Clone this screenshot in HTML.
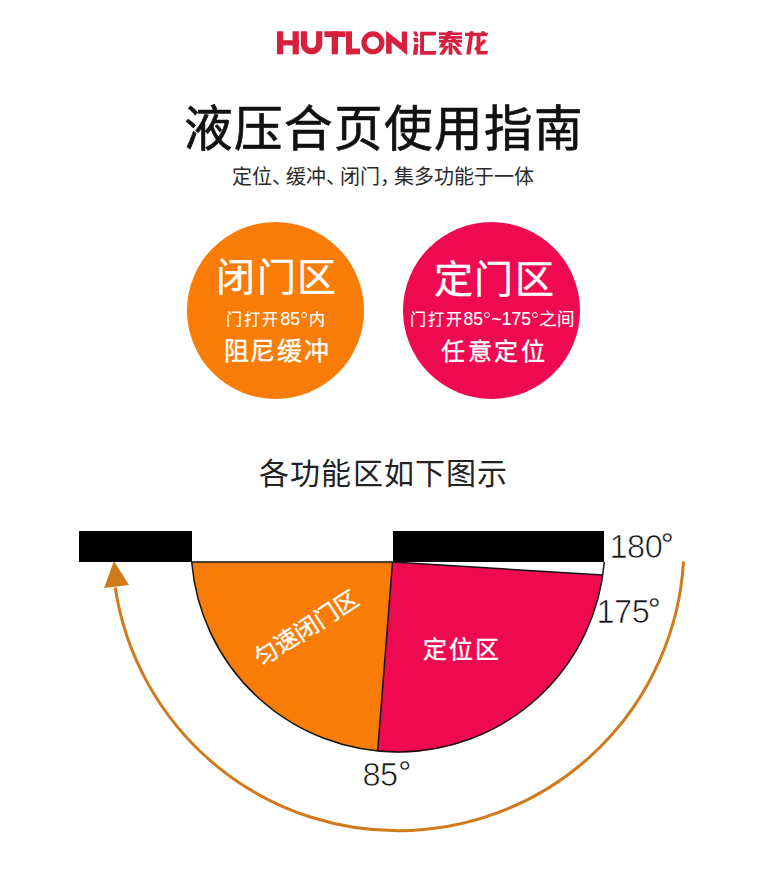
<!DOCTYPE html>
<html lang="zh-CN">
<head>
<meta charset="utf-8">
<style>
html,body{margin:0;padding:0;background:#fff;}
body{width:765px;height:873px;position:relative;overflow:hidden;font-family:"Liberation Sans",sans-serif;}
.t{position:absolute;white-space:nowrap;line-height:1;}
#title{left:183.5px;top:105px;font-size:48.5px;letter-spacing:1.1px;font-weight:500;-webkit-text-stroke:0.7px #111;color:#111;}
#sub{left:232px;top:166.5px;font-size:20px;color:#2a2a2a;}
#sub .p{letter-spacing:-6px;}
.circ{position:absolute;width:177px;height:177px;border-radius:50%;}
#c1{left:186.5px;top:222px;background:#f87c06;}
#c2{left:403px;top:222px;background:#ee0950;}
.w{color:#fff;-webkit-text-stroke:0.35px #fff;}
#c1a{left:216px;top:258px;font-size:39px;letter-spacing:1.6px;font-weight:350;}
#c1b{left:226px;top:311px;font-size:16px;letter-spacing:2.2px;font-weight:350;}
#c1c{left:223.5px;top:339px;font-size:25px;letter-spacing:1.7px;font-weight:350;}
#c2a{left:433.5px;top:260px;font-size:39px;letter-spacing:1.8px;font-weight:350;}
#c2b{left:409.5px;top:310.5px;font-size:16px;letter-spacing:2px;font-weight:350;}
.d{letter-spacing:0;font-size:17.5px;}
#c1b,#c2b{-webkit-text-stroke:0.15px #fff;}
.dg{display:inline-block;width:4px;height:4px;border:1.2px solid #fff;border-radius:50%;vertical-align:top;margin:1px 1.5px 0 1px;}
#c1b .d{margin-left:0;}
.zj{font-size:17.5px;letter-spacing:0.8px;}
#c2c{left:441px;top:339.5px;font-size:24px;letter-spacing:2.7px;font-weight:350;}
#h2{left:259px;top:458.5px;font-size:30px;letter-spacing:1.2px;color:#222;}
svg{position:absolute;left:0;top:0;}
.num{font-size:32.5px;color:#111;-webkit-text-stroke:0.7px #fff;letter-spacing:-0.5px;}
.dgb{position:relative;top:-1.5px;left:-1.5px;-webkit-text-stroke:0.3px #fff;}
#n180{left:609.5px;top:530.5px;}
#n175{left:596.5px;top:595.5px;}
#n85 .dgb{left:0.5px;}
#n85{left:362.5px;top:758.5px;}
#r1{left:307px;top:628.5px;font-size:23.5px;letter-spacing:0.6px;color:#fff;font-weight:350;-webkit-text-stroke:0.35px #fff;transform:translate(-50%,-50%) rotate(-33deg);}
#r2{left:423px;top:637.5px;font-size:24px;letter-spacing:1.8px;color:#fff;font-weight:350;-webkit-text-stroke:0.35px #fff;}
</style>
</head>
<body>
<svg width="765" height="80" viewBox="0 0 765 80" style="position:absolute;left:0;top:0"><g fill="#d71f3e">
<rect x="277" y="31.3" width="6.2" height="23"/><rect x="292.6" y="31.3" width="6.2" height="23"/><rect x="277" y="40.2" width="21.8" height="5.2"/>
<path d="M300.8 31.3H307V43.6A4.55 4.55 0 0 0 316.1 43.6V31.3H322.3V43.6A10.75 10.75 0 0 1 300.8 43.6Z"/>
<rect x="324.4" y="31.3" width="20.9" height="5.7"/><rect x="331.7" y="31.3" width="6.3" height="23"/>
<rect x="346" y="31.3" width="6" height="23"/><rect x="346" y="48.5" width="14" height="5.8"/>
<path d="M386.1 30.8L401.8 43.3V31.6H407V55L391.7 42.5V53.8H386.1Z"/>
</g><circle cx="372.9" cy="42.8" r="8.95" fill="none" stroke="#d71f3e" stroke-width="5.2"/></svg>
<svg width="765" height="80" viewBox="0 0 765 80" style="position:absolute;left:0;top:0"><g fill="#d71f3e">
<path d="M413 31.6H416.6L418.6 36.3H415Z"/>
<path d="M413.2 37.8H417.6L418.6 42.2H414.2Z"/>
<path d="M414.3 44.1H418.6L417.4 54.7H413Z"/>
<path d="M420.1 31.8H436.2L435.6 35.6H424V50.9H436.2L435.6 54.7H420.1Z"/>
<rect x="439" y="32.4" width="23" height="2.7"/>
<rect x="439" y="36.1" width="23" height="2.7"/>
<rect x="439" y="39.8" width="23" height="2.7"/>
<path d="M448 31H453L443.8 47.5H438.8Z"/>
<path d="M450.6 38.3H454.8L462.2 46.8H457.6Z"/>
<rect x="448.6" y="43" width="3.8" height="11.7"/>
<path d="M444.8 46H449.4L443.6 54.8H439Z"/>
<path d="M451.6 46H456L462.4 54.8H457.6Z"/>
<path d="M465 32.8H488L487.2 36H465Z"/>
<path d="M469.8 31.3H473.6L470.4 54.5H466.2Z"/>
<path d="M476.6 35.5H480.5V50.9H488L487.3 54.5H476.6Z"/>
<path d="M481.2 31.3H484.8L485.2 33H481.4Z"/>
<path d="M484 38.9L486.4 41.2L476 51L474.2 48.4Z"/>
</g></svg>
<div class="t" id="title">液压合页使用指南</div>
<div class="t" id="sub">定位<span class="p">、</span>缓冲<span class="p">、</span>闭门<span class="p">，</span>集多功能于一体</div>
<div class="circ" id="c1"></div>
<div class="circ" id="c2"></div>
<div class="t w" id="c1a">闭门区</div>
<div class="t w" id="c1b">门打开<span class="d">85<i class="dg"></i></span>内</div>
<div class="t w" id="c1c">阻尼缓冲</div>
<div class="t w" id="c2a">定门区</div>
<div class="t w" id="c2b">门打开<span class="d">85<i class="dg"></i>~175<i class="dg"></i></span><span class="zj">之间</span></div>
<div class="t w" id="c2c">任意定位</div>
<div class="t" id="h2">各功能区如下图示</div>
<svg width="765" height="873" viewBox="0 0 765 873">
  <rect x="79" y="531" width="113" height="31" fill="#000"/>
  <rect x="393" y="531" width="211" height="31" fill="#000"/>
  <path d="M191.7 562 L392.5 562 L377.6 751.6 A207 207 0 0 1 191.7 562 Z" fill="#f87c06"/>
  <path d="M392.5 562 L602.6 575 A207 207 0 0 1 377.6 751.6 Z" fill="#ee0950"/>
  <path d="M191.7 562 L392.5 562 M604.3 562 A207 207 0 0 1 191.7 562 M392.5 562 L377.6 751.6 M392.5 562 L602.6 575" fill="none" stroke="#141414" stroke-width="1.5"/>
  <path d="M683.5 561.5 A286 286 0 0 1 115.2 587.5" fill="none" stroke="#d07a1c" stroke-width="3"/>
  <path d="M114 561 L104 588 L129 585 Z" fill="#d07a1c"/>
</svg>
<div class="t num" id="n180">180<span class="dgb">°</span></div>
<div class="t num" id="n175">175<span class="dgb">°</span></div>
<div class="t num" id="n85">85<span class="dgb">°</span></div>
<div class="t" id="r1">匀速闭门区</div>
<div class="t" id="r2">定位区</div>
</body>
</html>
